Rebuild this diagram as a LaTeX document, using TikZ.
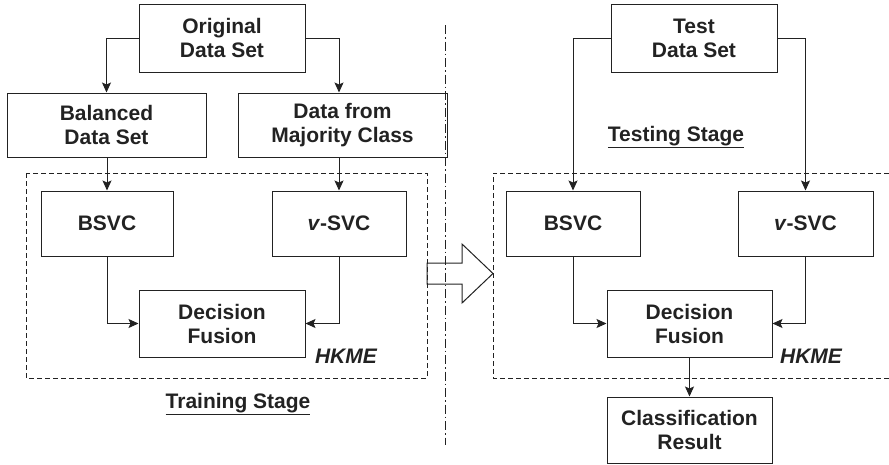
\documentclass[tikz,border=0pt]{standalone}
\usepackage{fontspec}
\setmainfont{Liberation Sans}
\usetikzlibrary{arrows.meta}
\definecolor{ink}{HTML}{222222}
\tikzset{
  box/.style={draw=ink, line width=1pt, inner sep=0pt, align=center, text=ink,
    font=\fontsize{21}{24}\selectfont\bfseries},
  arr/.style={draw=ink, line width=1pt, -{Stealth[length=10pt,width=9pt,inset=2pt]}},
  lbl/.style={text=ink, inner sep=0pt, font=\fontsize{21}{24}\selectfont\bfseries},
  hk/.style={draw=ink, line width=0.9pt, dash pattern=on 5pt off 3pt},
  sep/.style={draw=ink, line width=0.9pt, dash pattern=on 9pt off 3pt on 1.5pt off 3pt}
}
\begin{document}
\begin{tikzpicture}[x=1pt,y=-1pt]
\useasboundingbox (0,0) rectangle (889,464);
% dashed HKME boxes
\draw[hk] (26,173) rectangle (427,378);
\draw[hk] (889,173) -- (493,173) -- (493,378) -- (889,378);
% hollow arrow
\draw[draw=ink, line width=1pt] (427,263) -- (462,263) -- (462,244) -- (493,273.5) -- (462,303) -- (462,284) -- (427,284) -- cycle;
% separator
\draw[sep] (445,25) -- (445,445);
% left nodes
\node[box, minimum width=166pt, minimum height=68pt] (orig) at (222,38) {Original\\Data Set};
\node[box, minimum width=199pt, minimum height=64pt] (bal) at (106.5,125) {Balanced\\Data Set};
\node[box, minimum width=209pt, minimum height=64pt] (maj) at (342.5,125) {Data from\\Majority Class};
\node[box, minimum width=132pt, minimum height=65pt] (bsvcL) at (107,223.5) {BSVC};
\node[box, minimum width=134pt, minimum height=65pt] (vsvcL) at (339,223.5) {\textit{v}-SVC};
\node[box, minimum width=166pt, minimum height=67pt] (dfL) at (222,323.5) {Decision\\Fusion};
\node[lbl, font=\fontsize{21}{24}\selectfont\bfseries\itshape] (hkL) at (346,356) {HKME};
\node[lbl] (trn) at (238,404) {\underline{Training Stage}};
% right nodes
\node[box, minimum width=166pt, minimum height=68pt] (test) at (694,38) {Test\\Data Set};
\node[lbl] (tst) at (676,137) {\underline{Testing Stage}};
\node[box, minimum width=134pt, minimum height=65pt] (bsvcR) at (573,223.5) {BSVC};
\node[box, minimum width=135pt, minimum height=65pt] (vsvcR) at (805.5,223.5) {\textit{v}-SVC};
\node[box, minimum width=165pt, minimum height=67pt] (dfR) at (689.5,323.5) {Decision\\Fusion};
\node[lbl, font=\fontsize{21}{24}\selectfont\bfseries\itshape] (hkR) at (811,356) {HKME};
\node[box, minimum width=165pt, minimum height=66pt] (cr) at (689.5,430) {Classification\\Result};
% left connectors
\draw[arr] (orig.west) -| (bal.north);
\draw[arr] (orig.east) -| (vsvcL.north |- maj.north);
\draw[arr] (bal.south -| bsvcL.north) -- (bsvcL.north);
\draw[arr] (vsvcL.north |- maj.south) -- (vsvcL.north);
\draw[arr] (bsvcL.south) |- (dfL.west);
\draw[arr] (vsvcL.south) |- (dfL.east);
% right connectors
\draw[arr] (test.west) -| (bsvcR.north);
\draw[arr] (test.east) -| (vsvcR.north);
\draw[arr] (bsvcR.south) |- (dfR.west);
\draw[arr] (vsvcR.south) |- (dfR.east);
\draw[arr] (dfR.south) -- (cr.north);
\end{tikzpicture}
\end{document}
